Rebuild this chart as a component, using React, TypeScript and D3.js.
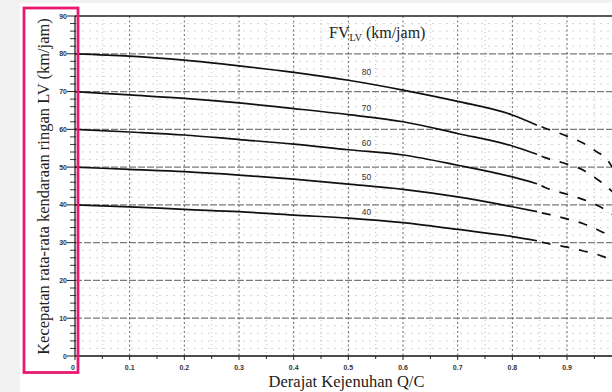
import React from 'react';
import * as d3 from 'd3';

// Q/C points along the solid part of each curve, then along the dashed tail
const QC = [0, 0.1, 0.2, 0.3, 0.4, 0.5, 0.6, 0.7, 0.8, 0.845];
const QC_DASH = [0.845, 0.86, 0.9, 0.93, 0.955, 0.97, 0.985];

// Speed (km/jam) for each free-flow speed curve
const FV80 = [80, 79.4, 78.3, 76.8, 75.1, 73.0, 70.4, 67.4, 63.8, 61.1];
const FV70 = [70, 69.1, 68.2, 67.0, 65.5, 63.9, 62.0, 58.9, 55.6, 53.4];
const FV60 = [60, 59.3, 58.5, 57.3, 56.1, 54.6, 53.2, 50.5, 47.4, 45.6];
const FV50 = [50, 49.4, 48.8, 47.9, 46.8, 45.5, 44.1, 42.1, 39.5, 38.2];
const FV40 = [40, 39.5, 38.8, 38.2, 37.3, 36.5, 35.3, 33.5, 31.6, 30.5];

const FV80_DASH = [61.1, 60.3, 58.2, 56.3, 54.0, 52.5, 49.5];
const FV70_DASH = [53.4, 52.5, 50.8, 49.2, 46.8, 45.2, 43.2];
const FV60_DASH = [45.6, 44.6, 42.8, 41.4, 39.9, 38.7, 37.3];
const FV50_DASH = [38.2, 37.7, 36.3, 35.0, 33.5, 32.4, 31.1];
const FV40_DASH = [30.5, 29.9, 28.8, 27.8, 26.9, 26.1, 25.3];

const CURVE_LABELS = ['80', '70', '60', '50', '40'];
const LABEL_QC = 0.533;
const LABEL_V = [75.2, 65.7, 56.3, 47.4, 38.2];

const Y_TICKS = d3.range(0, 91, 2);
const X_TICKS = d3.range(0, 20).map(i => i * 0.05);

const W = 612;
const H = 392;

export default function App() {
  const x = d3.scaleLinear().domain([0, 1]).range([75, 621.7]);
  const y = d3.scaleLinear().domain([0, 90]).range([356, 16]);
  const line = d3.line<[number, number]>()
    .x(d => x(d[0]))
    .y(d => y(d[1]))
    .curve(d3.curveMonotoneX);

  const solid = [FV80, FV70, FV60, FV50, FV40];
  const dashed = [FV80_DASH, FV70_DASH, FV60_DASH, FV50_DASH, FV40_DASH];
  const right = W;
  const serif = '"Liberation Serif", "DejaVu Serif", serif';
  const sans = '"Liberation Sans", Arial, sans-serif';

  return (
    <svg width={W} height={H} style={{ position: 'absolute', left: 0, top: 0, display: 'block' }}>
      <defs>
        <clipPath id="plot">
          <rect x={x(0)} y={y(90) - 2} width={right - x(0)} height={y(0) - y(90) + 4} />
        </clipPath>
      </defs>
      <rect width={W} height={H} fill="#f2f2f2" />
      <rect x={20} y={3} width={W - 20} height={H - 3} fill="#ffffff" />

      <g clipPath="url(#plot)">
        {/* minor grid */}
        {Y_TICKS.filter(v => v % 10 !== 0).map(v => (
          <line key={'hm' + v} x1={x(0)} x2={right} y1={y(v)} y2={y(v)}
            stroke="#c4c4c4" strokeWidth={0.7} strokeDasharray="2,5" />
        ))}
        {X_TICKS.filter((_, i) => i % 2 === 1).map(v => (
          <line key={'vm' + v} x1={x(v)} x2={x(v)} y1={y(90)} y2={y(0)}
            stroke="#a8a8a8" strokeWidth={0.7} strokeDasharray="1,3" />
        ))}
        {/* major grid */}
        {d3.range(10, 90, 10).map(v => (
          <line key={'hM' + v} x1={x(0)} x2={right} y1={y(v)} y2={y(v)}
            stroke="#7a7a7a" strokeWidth={1.3} strokeDasharray="7,2" />
        ))}
        {X_TICKS.filter((_, i) => i % 2 === 0 && i > 0).map(v => (
          <line key={'vM' + v} x1={x(v)} x2={x(v)} y1={y(90)} y2={y(0)}
            stroke="#555" strokeWidth={0.9} strokeDasharray="2,2.5" />
        ))}

        {/* curves */}
        {solid.map((vals, i) => (
          <path key={'s' + i} d={line(QC.map((q, j) => [q, vals[j]])) || ''}
            fill="none" stroke="#111" strokeWidth={1.7} />
        ))}
        {dashed.map((vals, i) => (
          <path key={'d' + i} d={line(QC_DASH.map((q, j) => [q, vals[j]])) || ''}
            fill="none" stroke="#111" strokeWidth={1.7} strokeDasharray="0,5,9,5" />
        ))}
      </g>

      {/* frame */}
      <line x1={x(0)} x2={right} y1={y(90)} y2={y(90)} stroke="#222" strokeWidth={1.3} />
      <line x1={x(0)} x2={right} y1={y(0)} y2={y(0)} stroke="#111" strokeWidth={1.6} />
      <line x1={x(0)} x2={x(0)} y1={y(90)} y2={y(0)} stroke="#111" strokeWidth={1.2} />

      {/* y axis ticks */}
      {Y_TICKS.map(v => (
        <line key={'yt' + v} x1={x(0) - (v % 10 === 0 ? 8 : 5)} x2={x(0) + 1} y1={y(v)} y2={y(v)}
          stroke="#222" strokeWidth={v % 10 === 0 ? 1 : 0.9} />
      ))}
      {Y_TICKS.filter(v => v % 10 === 0).map(v => (
        <text key={'yl' + v} x={x(0) - 8} y={y(v)} textAnchor="end" dominantBaseline="central"
          fontFamily={sans} fontSize={7} fontWeight="bold" fill="#333">{v}</text>
      ))}

      {/* x axis ticks */}
      {X_TICKS.map((v, i) => (
        <line key={'xt' + i} x1={x(v)} x2={x(v)} y1={y(0)} y2={y(0) + (i % 2 === 0 ? 4 : 3)}
          stroke="#222" strokeWidth={1} />
      ))}
      {X_TICKS.filter((_, i) => i % 2 === 0).map((v, i) => (
        <text key={'xl' + i} x={i === 0 ? x(v) - 2 : x(v)} y={y(0) + 14} textAnchor="middle"
          fontFamily={sans} fontSize={7} fontWeight="bold" fill="#333">
          {i === 0 ? '0' : d3.format('.1f')(v)}
        </text>
      ))}

      {/* curve labels */}
      {CURVE_LABELS.map((t, i) => (
        <text key={'cl' + t} x={x(LABEL_QC)} y={y(LABEL_V[i])} textAnchor="middle"
          dominantBaseline="central" fontFamily={sans} fontSize={8.5} fill="#333">{t}</text>
      ))}

      {/* title */}
      <text x={329} y={38} fontFamily={serif} fontSize={16} fill="#222">
        FV<tspan fontSize={10} dy={3}>LV</tspan><tspan dy={-3}> (km/jam)</tspan>
      </text>

      {/* axis titles */}
      <text transform="translate(48.5,186.5) rotate(-90)" textAnchor="middle"
        fontFamily={serif} fontSize={16.5} fill="#222">
        Kecepatan rata-rata kendaraan ringan LV (km/jam)
      </text>
      <text x={346.5} y={386.5} textAnchor="middle" fontFamily={serif} fontSize={16.5} fill="#222">
        Derajat Kejenuhan Q/C
      </text>

      {/* highlight box around the y axis */}
      <rect x={24} y={8} width={54} height={364.5} fill="none" stroke="#e8196f" strokeWidth={2.8} />
    </svg>
  );
}
